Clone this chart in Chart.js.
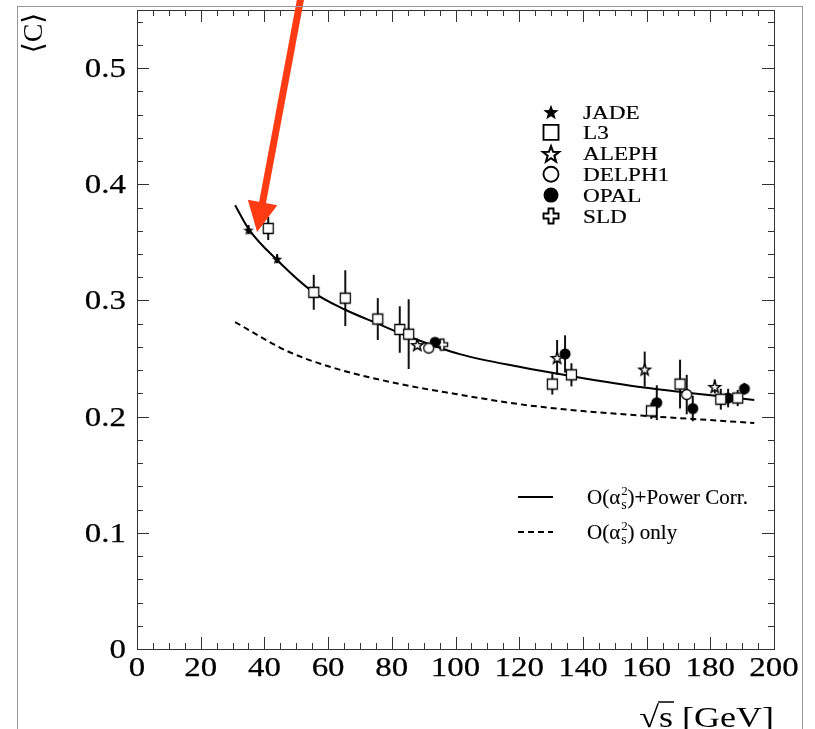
<!DOCTYPE html>
<html><head><meta charset="utf-8">
<script src="https://cdn.jsdelivr.net/npm/chart.js@4"></script>
<style>html,body{margin:0;padding:0;background:#fff}canvas{display:block}</style>
</head><body>
<canvas id="c" width="815" height="729"></canvas>
<script>
// ---------- data ----------
const xTickLabels = ['0','20','40','60','80','100','120','140','160','180','200'];
const yTickLabels = ['0','0.1','0.2','0.3','0.4','0.5'];

const jadeX = [35, 44];
const jadeY = [0.361, 0.336];
const jadeErr = [0.004, 0.004];

const l3X = [41.2, 55.5, 65.4, 75.6, 82.5, 85.3, 130.4, 136.4, 161.5, 170.5, 183.3, 188.6];
const l3Y = [0.362, 0.307, 0.302, 0.284, 0.275, 0.271, 0.228, 0.236, 0.205, 0.228, 0.215, 0.216];
const l3Err = [0.010, 0.015, 0.024, 0.018, 0.020, 0.030, 0.009, 0.010, 0.007, 0.021, 0.009, 0.007];

const alephX = [88, 131.9, 159.4, 181.4];
const alephY = [0.262, 0.251, 0.241, 0.226];
const alephErr = [0.004, 0.015, 0.015, 0.006];

const delphiX = [91.6, 172.6];
const delphiY = [0.259, 0.219];
const delphiErr = [0.003, 0.017];

const opalX = [93.6, 134.4, 163.2, 174.5, 185.6, 190.7];
const opalY = [0.264, 0.254, 0.212, 0.207, 0.216, 0.224];
const opalErr = [0.003, 0.016, 0.015, 0.011, 0.008, 0.005];

const sldX = [95.8];
const sldY = [0.262];
const sldErr = [0.003];

const powerCorrX = [30.8, 35.2, 43.9, 55.4, 65.4, 75.6, 85.3, 101.6, 120.4, 136.2, 159.2, 172.8, 193.8];
const powerCorrY = [0.382, 0.361, 0.335, 0.307, 0.292, 0.280, 0.269, 0.2536, 0.2427, 0.235, 0.225, 0.2206, 0.2143];

const nloX = [30.8, 47.1, 61.7, 82.7, 100, 120.4, 140, 160.3, 180, 193.8];
const nloY = [0.2814, 0.2565, 0.242, 0.228, 0.2195, 0.2106, 0.2048, 0.2005, 0.197, 0.1945];

const arrowTail = [51.8, 0.566];
const arrowTip = [37.7, 0.359];

// ---------- helpers ----------
const SERIF = '"Liberation Serif","Times New Roman","DejaVu Serif",serif';
function pts(xs, ys) { return xs.map((x, i) => ({x: x, y: ys[i]})); }

function drawShape(ctx, type, cx, cy, s) {
  ctx.save();
  ctx.lineWidth = Math.max(1.3, s / 8);
  ctx.strokeStyle = '#000'; ctx.fillStyle = '#000';
  const r = s / 2;
  ctx.beginPath();
  if (type === 'fstar' || type === 'ostar') {
    for (let i = 0; i < 10; i++) {
      const ang = -Math.PI / 2 + i * Math.PI / 5;
      const rr = (i % 2) ? r * 0.42 : r;
      const px = cx + rr * Math.cos(ang), py = cy + 0.08 * s + rr * Math.sin(ang);
      if (i) ctx.lineTo(px, py); else ctx.moveTo(px, py);
    }
    ctx.closePath();
    if (type === 'fstar') ctx.fill(); else { ctx.fillStyle = '#fff'; ctx.fill(); ctx.stroke(); }
  } else if (type === 'osq') {
    ctx.rect(cx - r, cy - r, s, s);
    ctx.fillStyle = '#fff'; ctx.fill(); ctx.stroke();
  } else if (type === 'ocirc') {
    ctx.arc(cx, cy, r, 0, Math.PI * 2);
    ctx.fillStyle = '#fff'; ctx.fill(); ctx.stroke();
  } else if (type === 'fcirc') {
    ctx.arc(cx, cy, r, 0, Math.PI * 2);
    ctx.fill();
  } else if (type === 'ocross') {
    const a = s / 6;
    const p = [[-a,-r],[a,-r],[a,-a],[r,-a],[r,a],[a,a],[a,r],[-a,r],[-a,a],[-r,a],[-r,-a],[-a,-a]];
    p.forEach((q, i) => i ? ctx.lineTo(cx + q[0], cy + q[1]) : ctx.moveTo(cx + q[0], cy + q[1]));
    ctx.closePath();
    ctx.fillStyle = '#fff'; ctx.fill(); ctx.stroke();
  }
  ctx.restore();
}
function markerCanvas(type, s) {
  const c = document.createElement('canvas');
  const n = Math.ceil(s + 5);
  c.width = n; c.height = n;
  drawShape(c.getContext('2d'), type, n / 2, n / 2, s);
  return c;
}
function sText(ctx, txt, x, y, size, align, sx, bold) {
  ctx.save();
  ctx.font = size + 'px ' + SERIF;
  const w = ctx.measureText(txt).width * sx;
  const x0 = align === 'right' ? x - w : (align === 'center' ? x - w / 2 : x);
  ctx.translate(x0, y); ctx.scale(sx, 1);
  ctx.textAlign = 'left'; ctx.textBaseline = 'alphabetic';
  ctx.fillStyle = '#000';
  ctx.fillText(txt, 0, 0);
  if (bold) { ctx.strokeStyle = '#000'; ctx.lineWidth = bold; ctx.strokeText(txt, 0, 0); }
  ctx.restore();
  return w;
}

const series = [
  {label: 'JADE', x: jadeX, y: jadeY, e: jadeErr, shape: 'fstar', size: 11, legSize: 16},
  {label: 'L3', x: l3X, y: l3Y, e: l3Err, shape: 'osq', size: 10, legSize: 15},
  {label: 'ALEPH', x: alephX, y: alephY, e: alephErr, shape: 'ostar', size: 12, legSize: 17},
  {label: 'DELPH1', x: delphiX, y: delphiY, e: delphiErr, shape: 'ocirc', size: 10, legSize: 15},
  {label: 'OPAL', x: opalX, y: opalY, e: opalErr, shape: 'fcirc', size: 11, legSize: 15},
  {label: 'SLD', x: sldX, y: sldY, e: sldErr, shape: 'ocross', size: 11, legSize: 15}
];

const datasets = series.map(s => ({
  type: 'scatter', label: s.label, data: pts(s.x, s.y),
  pointStyle: markerCanvas(s.shape, s.size), pointRadius: 5, pointHoverRadius: 5,
  showLine: false
}));
datasets.push({
  type: 'line', label: 'power', data: pts(powerCorrX, powerCorrY),
  borderColor: '#000', borderWidth: 2, pointRadius: 0, tension: 0.4,
  cubicInterpolationMode: 'monotone', fill: false
});
datasets.push({
  type: 'line', label: 'nlo', data: pts(nloX, nloY),
  borderColor: '#000', borderWidth: 2, borderDash: [6, 4], pointRadius: 0, tension: 0.4,
  cubicInterpolationMode: 'monotone', fill: false
});

const decor = {
  id: 'decor',
  beforeDatasetsDraw(chart) {
    const ctx = chart.ctx, xs = chart.scales.x, ys = chart.scales.y;
    ctx.save();
    ctx.strokeStyle = '#111'; ctx.lineWidth = 2;
    series.forEach(s => {
      s.x.forEach((xv, i) => {
        const px = xs.getPixelForValue(xv);
        ctx.beginPath();
        ctx.moveTo(px, ys.getPixelForValue(s.y[i] - s.e[i]));
        ctx.lineTo(px, ys.getPixelForValue(s.y[i] + s.e[i]));
        ctx.stroke();
      });
    });
    ctx.restore();
  },
  afterDraw(chart) {
    const ctx = chart.ctx, xs = chart.scales.x, ys = chart.scales.y, a = chart.chartArea;
    ctx.save();
    // frame
    ctx.strokeStyle = '#333'; ctx.lineWidth = 1;
    ctx.strokeRect(a.left + 0.5, a.top + 0.5, a.right - a.left, a.bottom - a.top);
    ctx.beginPath();
    for (let k = 0; k <= 40; k++) {
      const v = k * 5, px = Math.round(xs.getPixelForValue(v)) + 0.5;
      const len = (k % 4 === 0) ? 12 : 6;
      ctx.moveTo(px, a.bottom); ctx.lineTo(px, a.bottom - len);
      ctx.moveTo(px, a.top); ctx.lineTo(px, a.top + len);
    }
    for (let k = 0; k <= 27; k++) {
      const v = k * 0.02, py = Math.round(ys.getPixelForValue(v)) + 0.5;
      const len = (k % 5 === 0) ? 12 : 6;
      ctx.moveTo(a.left, py); ctx.lineTo(a.left + len, py);
      ctx.moveTo(a.right, py); ctx.lineTo(a.right - len, py);
    }
    ctx.stroke();
    // tick labels
    xTickLabels.forEach(t => {
      sText(ctx, t, xs.getPixelForValue(Number(t)), a.bottom + 27, 27, 'center', 1.22, 0.25);
    });
    yTickLabels.forEach(t => {
      sText(ctx, t, a.left - 11, ys.getPixelForValue(Number(t)) + 9, 27, 'right', 1.22, 0.25);
    });
    // y title (rotated)
    ctx.save();
    ctx.translate(42, 33);
    ctx.rotate(-Math.PI / 2);
    ctx.font = '28px ' + SERIF; ctx.fillStyle = '#000';
    ctx.textAlign = 'center'; ctx.textBaseline = 'alphabetic';
    ctx.fillText('\u27E8C\u27E9', 0, 0);
    ctx.restore();
    // x title
    {
      const size = 30, sx = 1.2, y = 727;
      ctx.font = size + 'px ' + SERIF;
      const wAll = ctx.measureText('\u221As [GeV]').width * sx;
      const w1 = ctx.measureText('\u221A').width * sx;
      const w2 = ctx.measureText('\u221As').width * sx;
      const x0 = a.right - wAll;
      sText(ctx, '\u221As [GeV]', x0, y, size, 'left', sx);
      ctx.beginPath(); ctx.lineWidth = 1.5; ctx.strokeStyle = '#000';
      ctx.moveTo(x0 + w1 - 1, y - 25); ctx.lineTo(x0 + w2 + 1, y - 25); ctx.stroke();
    }
    // legend 1
    series.forEach((s, i) => {
      const ry = 111.5 + i * 20.9;
      drawShape(ctx, s.shape, 551, ry, s.legSize);
      sText(ctx, s.label, 583, ry + 7, 19, 'left', 1.22, 0.2);
    });
    // legend 2
    ctx.strokeStyle = '#000'; ctx.lineWidth = 2;
    ctx.beginPath(); ctx.moveTo(518, 497); ctx.lineTo(553, 497); ctx.stroke();
    ctx.setLineDash([6, 4]);
    ctx.beginPath(); ctx.moveTo(518, 532); ctx.lineTo(553, 532); ctx.stroke();
    ctx.setLineDash([]);
    function oAlpha(x, yb, tail) {
      let w = sText(ctx, 'O(\u03B1', x, yb, 21, 'left', 1.0, 0.15);
      sText(ctx, '2', x + w + 1, yb - 9, 13, 'left', 1.0);
      const w2 = sText(ctx, 's', x + w + 1, yb + 5, 14, 'left', 1.0);
      sText(ctx, ')' + tail, x + w + w2 + 2, yb, 21, 'left', 1.0, 0.15);
    }
    oAlpha(587, 504, '+Power Corr.');
    oAlpha(587, 539, ' only');
    // arrow
    {
      const tx = xs.getPixelForValue(arrowTail[0]), ty = ys.getPixelForValue(arrowTail[1]);
      const hx = xs.getPixelForValue(arrowTip[0]), hy = ys.getPixelForValue(arrowTip[1]);
      const dx = hx - tx, dy = hy - ty, L = Math.hypot(dx, dy), ux = dx / L, uy = dy / L;
      const nx = -uy, ny = ux, headL = 30, headW = 15;
      const bx = hx - ux * headL, by = hy - uy * headL;
      ctx.fillStyle = '#ff3b14'; ctx.strokeStyle = '#ff3b14';
      ctx.lineWidth = 7; ctx.lineCap = 'butt';
      ctx.beginPath(); ctx.moveTo(tx, ty); ctx.lineTo(bx + ux * 2, by + uy * 2); ctx.stroke();
      ctx.beginPath();
      ctx.moveTo(hx, hy);
      ctx.lineTo(bx + nx * headW, by + ny * headW);
      ctx.lineTo(bx - nx * headW, by - ny * headW);
      ctx.closePath(); ctx.fill();
    }
    // outer canvas border
    ctx.strokeStyle = '#9a9a9a'; ctx.lineWidth = 1;
    ctx.strokeRect(17.5, 6.5, 785, 740);
    ctx.restore();
  }
};

new Chart(document.getElementById('c'), {
  type: 'scatter',
  data: {datasets: datasets},
  options: {
    responsive: false, animation: false, devicePixelRatio: 1,
    layout: {padding: {top: 10, right: 41, left: 0, bottom: 0}},
    plugins: {legend: {display: false}, tooltip: {enabled: false}},
    scales: {
      x: {type: 'linear', min: 0, max: 200,
          grid: {display: false, drawTicks: false}, border: {display: false},
          ticks: {display: false}, afterFit(s) { s.height = 80; }},
      y: {type: 'linear', min: 0, max: 0.55,
          grid: {display: false, drawTicks: false}, border: {display: false},
          ticks: {display: false}, afterFit(s) { s.width = 137; }}
    }
  },
  plugins: [decor]
});
</script>
</body></html>
